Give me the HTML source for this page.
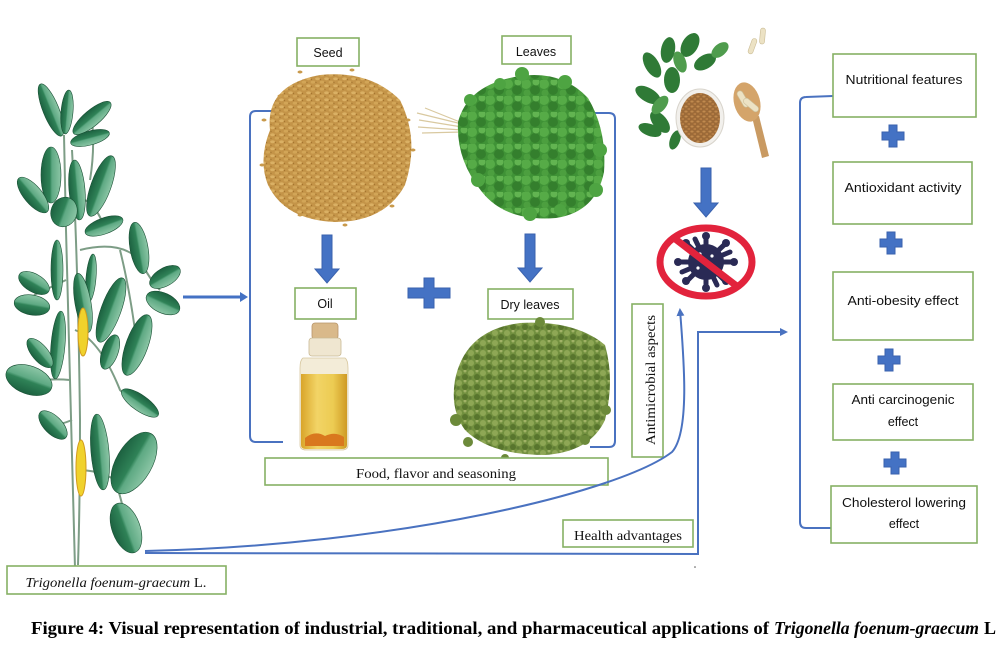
<!DOCTYPE html>
<html><head><meta charset="utf-8">
<style>
html,body{margin:0;padding:0;background:#fff;}
svg{display:block;}
.bx{fill:#fff;stroke:#86b064;stroke-width:1.6;}
.ss{font-family:"Liberation Sans",sans-serif;font-size:12.5px;fill:#111;}
.sf{font-family:"Liberation Serif",serif;font-size:13.5px;fill:#111;}
.bl{fill:none;stroke:#4a72c0;stroke-width:2;}
.ba{fill:#4472c4;stroke:#3a62ae;stroke-width:1;}
</style></head>
<body>
<svg width="1000" height="654" viewBox="0 0 1000 654" xmlns="http://www.w3.org/2000/svg">
<defs>
  <linearGradient id="lf" x1="0" y1="0" x2="1" y2="0">
    <stop offset="0" stop-color="#1c6140"/>
    <stop offset="0.45" stop-color="#2f8257"/>
    <stop offset="0.55" stop-color="#5ea983"/>
    <stop offset="1" stop-color="#8cc6a6"/>
  </linearGradient>
  <pattern id="seedp" width="9" height="7" patternUnits="userSpaceOnUse">
    <rect width="9" height="7" fill="#c49448"/>
    <ellipse cx="2.5" cy="1.8" rx="2.3" ry="1.4" fill="#dab064"/>
    <ellipse cx="7" cy="5.2" rx="2.3" ry="1.4" fill="#d2a557"/>
    <circle cx="5.5" cy="2.5" r="0.7" fill="#a5752f"/>
    <circle cx="1" cy="5.5" r="0.7" fill="#a87a34"/>
  </pattern>
  <pattern id="leafp" width="18" height="16" patternUnits="userSpaceOnUse">
    <rect width="18" height="16" fill="#3f9236"/>
    <circle cx="4" cy="4" r="5" fill="#56ab47"/>
    <circle cx="13" cy="10" r="5" fill="#347f2d"/>
    <circle cx="5" cy="13" r="3.5" fill="#4c9f3f"/>
    <circle cx="14" cy="2" r="3.5" fill="#62b451"/>
  </pattern>
  <pattern id="dryp" width="12" height="10" patternUnits="userSpaceOnUse">
    <rect width="12" height="10" fill="#72903f"/>
    <circle cx="3" cy="3" r="3" fill="#8ea755"/>
    <circle cx="9" cy="7" r="3" fill="#58752d"/>
    <circle cx="9" cy="1" r="1.5" fill="#a0b266"/>
    <circle cx="2" cy="8" r="1.6" fill="#607d35"/>
  </pattern>
  <pattern id="bowlp" width="6" height="5" patternUnits="userSpaceOnUse">
    <rect width="6" height="5" fill="#9c6a38"/>
    <ellipse cx="2" cy="1.5" rx="1.6" ry="1" fill="#c08a4e"/>
    <ellipse cx="5" cy="4" rx="1.6" ry="1" fill="#b57d44"/>
  </pattern>
  <linearGradient id="oil" x1="0" y1="0" x2="1" y2="0">
    <stop offset="0" stop-color="#d9a52a"/>
    <stop offset="0.35" stop-color="#f2d466"/>
    <stop offset="0.7" stop-color="#eccb52"/>
    <stop offset="1" stop-color="#cf9a24"/>
  </linearGradient>
  <marker id="ah" markerWidth="8" markerHeight="8" refX="6" refY="4" orient="auto" markerUnits="userSpaceOnUse">
    <path d="M0,0 L8,4 L0,8 Z" fill="#4a72c0"/>
  </marker>
</defs>

<!-- ============ PLANT ============ -->
<g stroke="#7d9d86" stroke-width="2" fill="none">
  <path d="M64,135 L66,230 Q70,400 75,568"/>
  <path d="M72,150 Q78,260 80,420 Q80,500 78,565"/>
  <path d="M66,200 Q90,190 104,226"/>
  <path d="M80,250 Q120,240 140,260 Q150,280 160,290"/>
  <path d="M66,280 Q45,290 34,295"/>
  <path d="M75,330 Q100,340 120,390 Q130,400 140,403"/>
  <path d="M70,380 Q50,378 30,382"/>
  <path d="M76,470 Q100,470 115,480 Q125,510 126,528"/>
  <path d="M72,420 Q60,425 53,425"/>
  <path d="M90,180 Q95,150 92,120"/>
  <path d="M120,250 Q130,290 137,345"/>
</g>
<g fill="url(#lf)" stroke="#184f33" stroke-width="0.6">
  <ellipse cx="51" cy="110" rx="8" ry="28" transform="rotate(-22 51 110)"/>
  <ellipse cx="67" cy="112" rx="6" ry="22" transform="rotate(5 67 112)"/>
  <ellipse cx="92" cy="118" rx="8" ry="24" transform="rotate(50 92 118)"/>
  <ellipse cx="90" cy="138" rx="7" ry="20" transform="rotate(75 90 138)"/>
  <ellipse cx="51" cy="175" rx="10" ry="28" transform="rotate(0 51 175)"/>
  <ellipse cx="33" cy="195" rx="9" ry="22" transform="rotate(-40 33 195)"/>
  <ellipse cx="77" cy="190" rx="8" ry="30" transform="rotate(-5 77 190)"/>
  <ellipse cx="64" cy="212" rx="13" ry="15" transform="rotate(20 64 212)"/>
  <ellipse cx="101" cy="186" rx="10" ry="32" transform="rotate(20 101 186)"/>
  <ellipse cx="104" cy="226" rx="8" ry="20" transform="rotate(70 104 226)"/>
  <ellipse cx="139" cy="248" rx="9" ry="26" transform="rotate(-10 139 248)"/>
  <ellipse cx="165" cy="277" rx="9" ry="17" transform="rotate(60 165 277)"/>
  <ellipse cx="163" cy="303" rx="10" ry="18" transform="rotate(115 163 303)"/>
  <ellipse cx="34" cy="283" rx="9" ry="17" transform="rotate(-60 34 283)"/>
  <ellipse cx="32" cy="305" rx="10" ry="18" transform="rotate(-80 32 305)"/>
  <ellipse cx="57" cy="270" rx="6" ry="30" transform="rotate(0 57 270)"/>
  <ellipse cx="91" cy="278" rx="5" ry="24" transform="rotate(5 91 278)"/>
  <ellipse cx="83" cy="303" rx="8" ry="30" transform="rotate(-10 83 303)"/>
  <ellipse cx="111" cy="310" rx="10" ry="34" transform="rotate(20 111 310)"/>
  <ellipse cx="58" cy="345" rx="7" ry="34" transform="rotate(5 58 345)"/>
  <ellipse cx="40" cy="353" rx="8" ry="18" transform="rotate(-40 40 353)"/>
  <ellipse cx="29" cy="380" rx="14" ry="24" transform="rotate(-70 29 380)"/>
  <ellipse cx="110" cy="352" rx="8" ry="18" transform="rotate(20 110 352)"/>
  <ellipse cx="137" cy="345" rx="11" ry="32" transform="rotate(20 137 345)"/>
  <ellipse cx="140" cy="403" rx="8" ry="22" transform="rotate(125 140 403)"/>
  <ellipse cx="53" cy="425" rx="9" ry="18" transform="rotate(-45 53 425)"/>
  <ellipse cx="100" cy="452" rx="9" ry="38" transform="rotate(-5 100 452)"/>
  <ellipse cx="134" cy="463" rx="18" ry="34" transform="rotate(30 134 463)"/>
  <ellipse cx="126" cy="528" rx="14" ry="26" transform="rotate(-20 126 528)"/>
</g>
<ellipse cx="83" cy="332" rx="5" ry="24" fill="#f0d22c" stroke="#d29a1c" stroke-width="1"/>
<ellipse cx="81" cy="468" rx="5" ry="28" fill="#f0d22c" stroke="#d29a1c" stroke-width="1"/>

<!-- arrow plant -> bracket -->
<line x1="183" y1="297" x2="242" y2="297" stroke="#4472c4" stroke-width="3"/>
<path d="M240,292 L248,297 L240,302 Z" fill="#4472c4"/>

<!-- ============ BRACKETS ============ -->
<path class="bl" d="M283,111 L256,111 Q250,111 250,117 L250,436 Q250,442 256,442 L283,442"/>
<path class="bl" d="M590,113 L609,113 Q615,113 615,119 L615,441 Q615,447 609,447 L590,447"/>

<!-- Seed pile -->
<path d="M270,130 Q265,85 320,75 Q370,70 400,100 Q420,140 405,185 Q385,222 335,222 Q285,220 268,185 Q258,160 270,130Z" fill="url(#seedp)"/>
<g fill="#c99a4c">
  <ellipse cx="300" cy="72" rx="2.5" ry="1.5"/><ellipse cx="352" cy="70" rx="2.5" ry="1.5"/>
  <ellipse cx="264" cy="120" rx="2.5" ry="1.5"/><ellipse cx="413" cy="150" rx="2.5" ry="1.5"/>
  <ellipse cx="408" cy="120" rx="2.5" ry="1.5"/><ellipse cx="300" cy="215" rx="2.5" ry="1.5"/>
  <ellipse cx="345" cy="225" rx="2.5" ry="1.5"/><ellipse cx="262" cy="165" rx="2.5" ry="1.5"/>
  <ellipse cx="392" cy="206" rx="2.5" ry="1.5"/><ellipse cx="280" cy="96" rx="2.5" ry="1.5"/>
</g>

<!-- Leaves bunch -->
<g stroke="#d9c9a0" stroke-width="1.2">
  <line x1="417" y1="113" x2="462" y2="124"/><line x1="419" y1="120" x2="462" y2="127"/>
  <line x1="418" y1="127" x2="462" y2="130"/><line x1="422" y1="133" x2="462" y2="132"/>
  <line x1="425" y1="108" x2="460" y2="122"/>
</g>
<path d="M458,122 Q468,84 520,76 Q562,70 588,98 Q607,130 604,172 Q596,212 556,218 Q506,222 482,192 Q456,160 458,122Z" fill="url(#leafp)"/>
<g fill="#4ea442">
  <circle cx="522" cy="74" r="7"/><circle cx="500" cy="84" r="6"/><circle cx="565" cy="82" r="7"/>
  <circle cx="600" cy="150" r="7"/><circle cx="596" cy="190" r="7"/><circle cx="530" cy="214" r="7"/>
  <circle cx="470" cy="100" r="6"/><circle cx="478" cy="180" r="7"/><circle cx="560" cy="210" r="6"/>
</g>

<!-- block arrows -->
<path class="ba" d="M322,235 L332,235 L332,269 L339,269 L327,283 L315,269 L322,269 Z"/>
<path class="ba" d="M525,234 L535,234 L535,268 L542,268 L530,282 L518,268 L525,268 Z"/>
<path class="ba" d="M701,168 L711,168 L711,203 L718,203 L706,217 L694,203 L701,203 Z"/>

<!-- Big plus -->
<path class="ba" d="M424,278 L434,278 L434,288 L450,288 L450,298 L434,298 L434,308 L424,308 L424,298 L408,298 L408,288 L424,288 Z"/>

<!-- Boxes top -->
<rect class="bx" x="297" y="38" width="62" height="28"/>
<text class="ss" x="328" y="57" text-anchor="middle" font-size="13">Seed</text>
<rect class="bx" x="502" y="36" width="69" height="28"/>
<text class="ss" x="536" y="56" text-anchor="middle" font-size="13">Leaves</text>
<rect class="bx" x="295" y="288" width="61" height="31"/>
<text class="ss" x="325" y="308" text-anchor="middle" font-size="13">Oil</text>
<rect class="bx" x="488" y="289" width="85" height="30"/>
<text class="ss" x="530" y="309" text-anchor="middle" font-size="13">Dry leaves</text>

<!-- Oil bottle -->
<rect x="312" y="323" width="26" height="16" rx="3" fill="#d9b98a" stroke="#b8956a" stroke-width="0.8"/>
<rect x="309" y="338" width="32" height="18" rx="3" fill="#efe6d0" stroke="#c9b993" stroke-width="0.8"/>
<path d="M303,358 Q300,360 300,368 L300,445 Q300,450 306,450 L342,450 Q348,450 348,445 L348,368 Q348,360 345,358 Z" fill="#f3ecd8" stroke="#d8c8a0" stroke-width="0.8"/>
<path d="M301,374 L347,374 L347,445 Q347,449 342,449 L306,449 Q301,449 301,445 Z" fill="url(#oil)"/>
<path d="M305,438 Q315,430 325,436 Q335,431 344,437 L344,446 L305,446 Z" fill="#d9781e"/>

<!-- Dry leaves pile -->
<path d="M455,380 Q465,330 520,323 Q575,320 605,345 Q615,380 605,420 Q590,452 545,455 Q490,455 465,430 Q450,410 455,380Z" fill="url(#dryp)"/>
<g fill="#6c8a3a">
  <circle cx="456" cy="420" r="6"/><circle cx="468" cy="442" r="5"/><circle cx="606" cy="410" r="5"/>
  <circle cx="540" cy="322" r="5"/><circle cx="505" cy="458" r="4"/><circle cx="585" cy="440" r="5"/>
</g>

<!-- Food box -->
<rect class="bx" x="265" y="458" width="343" height="27"/>
<text class="sf" x="436" y="478" text-anchor="middle" font-size="13" textLength="160" lengthAdjust="spacingAndGlyphs">Food, flavor and seasoning</text>

<!-- ============ Pills image ============ -->
<g>
  <g fill="#2f7a36">
    <ellipse cx="652" cy="65" rx="7" ry="14" transform="rotate(-30 652 65)"/>
    <ellipse cx="668" cy="50" rx="7" ry="13" transform="rotate(10 668 50)"/>
    <ellipse cx="690" cy="45" rx="8" ry="13" transform="rotate(30 690 45)"/>
    <ellipse cx="705" cy="62" rx="7" ry="12" transform="rotate(60 705 62)"/>
    <ellipse cx="648" cy="95" rx="7" ry="14" transform="rotate(-60 648 95)"/>
    <ellipse cx="660" cy="122" rx="7" ry="13" transform="rotate(-40 660 122)"/>
    <ellipse cx="672" cy="80" rx="8" ry="13" transform="rotate(0 672 80)"/>
    <ellipse cx="650" cy="130" rx="6" ry="12" transform="rotate(-70 650 130)"/>
    <ellipse cx="675" cy="140" rx="5" ry="10" transform="rotate(20 675 140)"/>
  </g>
  <g fill="#4f9c4d">
    <ellipse cx="680" cy="62" rx="6" ry="11" transform="rotate(-20 680 62)"/>
    <ellipse cx="660" cy="105" rx="6" ry="11" transform="rotate(40 660 105)"/>
    <ellipse cx="720" cy="50" rx="6" ry="10" transform="rotate(50 720 50)"/>
  </g>
  <ellipse cx="700" cy="118" rx="24" ry="29" fill="#f2f0ec" stroke="#d8d4cc" stroke-width="1"/>
  <ellipse cx="700" cy="118" rx="20" ry="25" fill="url(#bowlp)"/>
  <path d="M752,117 L762,158 L769,156 L759,116 Z" fill="#c99a62"/>
  <ellipse cx="747" cy="102" rx="13" ry="20" fill="#d4a46a" transform="rotate(-15 747 102)"/>
  <g fill="#ece2c4" stroke="#cbbd96" stroke-width="0.6">
    <rect x="740" y="90" width="6" height="18" rx="3" transform="rotate(-30 743 99)"/>
    <rect x="748" y="96" width="6" height="18" rx="3" transform="rotate(-50 751 105)"/>
    <rect x="750" y="38" width="5" height="16" rx="2.5" transform="rotate(20 752 46)"/>
    <rect x="760" y="28" width="5" height="16" rx="2.5" transform="rotate(5 762 36)"/>
  </g>
</g>

<!-- No germ symbol -->
<g fill="#2a2a55">
  <circle cx="706" cy="262" r="18"/>
  <g stroke="#2a2a55" stroke-width="5" stroke-linecap="round">
    <line x1="706" y1="262" x2="706" y2="238"/><line x1="706" y1="262" x2="706" y2="286"/>
    <line x1="706" y1="262" x2="680" y2="262"/><line x1="706" y1="262" x2="732" y2="262"/>
    <line x1="706" y1="262" x2="688" y2="245"/><line x1="706" y1="262" x2="724" y2="245"/>
    <line x1="706" y1="262" x2="688" y2="280"/><line x1="706" y1="262" x2="724" y2="280"/>
    <line x1="706" y1="262" x2="695" y2="239"/><line x1="706" y1="262" x2="717" y2="285"/>
    <line x1="706" y1="262" x2="730" y2="252"/><line x1="706" y1="262" x2="682" y2="272"/>
  </g>
  <circle cx="706" cy="236" r="4"/><circle cx="706" cy="288" r="4"/>
  <circle cx="678" cy="262" r="4"/><circle cx="734" cy="262" r="4"/>
  <circle cx="686" cy="243" r="4"/><circle cx="726" cy="243" r="4"/>
  <circle cx="686" cy="281" r="4"/><circle cx="726" cy="281" r="4"/>
</g>
<g fill="#fff">
  <circle cx="700" cy="254" r="1.6"/><circle cx="712" cy="256" r="1.6"/>
  <circle cx="698" cy="268" r="1.6"/><circle cx="714" cy="270" r="1.6"/><circle cx="706" cy="262" r="1.6"/>
</g>
<ellipse cx="706" cy="262" rx="46" ry="34" fill="none" stroke="#e2233c" stroke-width="7"/>
<line x1="674" y1="238" x2="738" y2="287" stroke="#e2233c" stroke-width="7"/>

<!-- Antimicrobial box -->
<rect class="bx" x="632" y="304" width="31" height="153"/>
<text class="sf" transform="translate(655,380) rotate(-90)" text-anchor="middle" font-size="13.5" textLength="130" lengthAdjust="spacingAndGlyphs">Antimicrobial aspects</text>

<!-- connectors -->
<path class="bl" d="M145,551 C 400,545 620,492 672,452 C 690,432 684,360 680,310" marker-end="url(#ah)"/>
<path class="bl" d="M145,553 L698,554 L698,332 L786,332" marker-end="url(#ah)"/>
<circle cx="695" cy="567" r="0.8" fill="#555"/>

<!-- Health advantages -->
<rect class="bx" x="563" y="520" width="130" height="27"/>
<text class="sf" x="628" y="540" text-anchor="middle" textLength="108" lengthAdjust="spacingAndGlyphs">Health advantages</text>

<!-- Right bracket -->
<path class="bl" d="M833,96 L806,97 Q800,97 800,103 L800,522 Q800,528 806,528 L833,528"/>

<!-- Right boxes -->
<rect class="bx" x="833" y="54" width="143" height="63"/>
<text class="ss" x="904" y="84" text-anchor="middle" textLength="117" lengthAdjust="spacingAndGlyphs">Nutritional features</text>
<rect class="bx" x="833" y="162" width="139" height="62"/>
<text class="ss" x="903" y="192" text-anchor="middle" textLength="117" lengthAdjust="spacingAndGlyphs">Antioxidant activity</text>
<rect class="bx" x="833" y="272" width="140" height="68"/>
<text class="ss" x="903" y="305" text-anchor="middle" textLength="111" lengthAdjust="spacingAndGlyphs">Anti-obesity effect</text>
<rect class="bx" x="833" y="384" width="140" height="56"/>
<text class="ss" x="903" y="404" text-anchor="middle" textLength="103" lengthAdjust="spacingAndGlyphs">Anti carcinogenic</text>
<text class="ss" x="903" y="426" text-anchor="middle">effect</text>
<rect class="bx" x="831" y="486" width="146" height="57"/>
<text class="ss" x="904" y="507" text-anchor="middle" textLength="124" lengthAdjust="spacingAndGlyphs">Cholesterol lowering</text>
<text class="ss" x="904" y="528" text-anchor="middle">effect</text>

<!-- small plus signs -->
<g class="ba">
  <path d="M889,125 L897,125 L897,132 L904,132 L904,140 L897,140 L897,147 L889,147 L889,140 L882,140 L882,132 L889,132 Z"/>
  <path d="M887,232 L895,232 L895,239 L902,239 L902,247 L895,247 L895,254 L887,254 L887,247 L880,247 L880,239 L887,239 Z"/>
  <path d="M885,349 L893,349 L893,356 L900,356 L900,364 L893,364 L893,371 L885,371 L885,364 L878,364 L878,356 L885,356 Z"/>
  <path d="M891,452 L899,452 L899,459 L906,459 L906,467 L899,467 L899,474 L891,474 L891,467 L884,467 L884,459 L891,459 Z"/>
</g>

<!-- Trigonella box -->
<rect class="bx" x="7" y="566" width="219" height="28"/>
<text class="sf" x="116" y="587" text-anchor="middle" font-style="italic" font-size="14.5" textLength="181" lengthAdjust="spacingAndGlyphs">Trigonella foenum-graecum <tspan font-style="normal">L.</tspan></text>

<!-- Caption -->
<text x="31" y="634" font-family="Liberation Serif, serif" font-weight="bold" font-size="18" fill="#000" textLength="738" lengthAdjust="spacingAndGlyphs">Figure 4: Visual representation of industrial, traditional, and pharmaceutical applications of</text>
<text x="774" y="634" font-family="Liberation Serif, serif" font-weight="bold" font-style="italic" font-size="18" fill="#000" textLength="205" lengthAdjust="spacingAndGlyphs">Trigonella foenum-graecum</text>
<text x="984" y="634" font-family="Liberation Serif, serif" font-weight="bold" font-size="18" fill="#000">L</text>
</svg>
</body></html>
